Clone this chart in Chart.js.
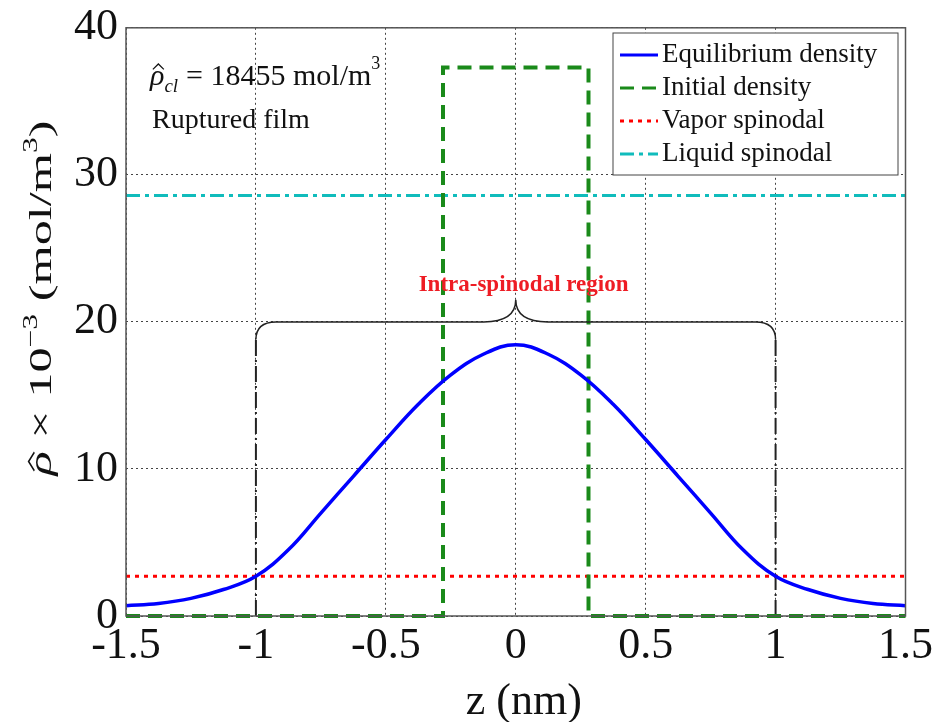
<!DOCTYPE html>
<html>
<head>
<meta charset="utf-8">
<script src="https://cdn.jsdelivr.net/npm/chart.js@4"></script>
<style>
  html, body { margin: 0; padding: 0; background: #fff; }
  #wrap { width: 941px; height: 722px; }
</style>
</head>
<body>
<div id="wrap"><canvas id="myChart"></canvas></div>
<script>
// data (z in nm, density x 10^-3 mol/m^3)
const zEq = [-1.5, -1.375, -1.25, -1.125, -1, -0.875, -0.75, -0.625, -0.5, -0.375, -0.25, -0.125, 0,
  0.125, 0.25, 0.375, 0.5, 0.625, 0.75, 0.875, 1, 1.125, 1.25, 1.375, 1.5];
const rhoEq = [0.7, 0.85, 1.2, 1.8, 2.7, 4.5, 7.0, 9.5, 12.0, 14.4, 16.4, 17.8, 18.45,
  17.8, 16.4, 14.4, 12.0, 9.5, 7.0, 4.5, 2.7, 1.8, 1.2, 0.85, 0.7];
const zInit = [-1.5, -0.28, -0.28, 0.28, 0.28, 1.5];
const rhoInit = [0, 0, 37.3, 37.3, 0, 0];
const vaporSpinodal = 2.7;
const liquidSpinodal = 28.6;
const spinodalZ = [-1, 1];
const braceTop = 18.8;
const xTicks = [-1.5, -1, -0.5, 0, 0.5, 1, 1.5];
const yTicks = [0, 10, 20, 30, 40];
const seriesNames = ["Equilibrium density", "Initial density", "Vapor spinodal", "Liquid spinodal"];

const serif = "'Liberation Serif', 'DejaVu Serif', serif";

function pts(xs, ys) { return xs.map((x, i) => ({ x: x, y: ys[i] })); }

const datasets = [
  { label: seriesNames[0], data: pts(zEq, rhoEq), borderColor: "#0000ff", borderWidth: 3.5,
    tension: 0.4, pointRadius: 0 },
  { label: seriesNames[1], data: pts(zInit, rhoInit), borderColor: "#1a8a1a", borderWidth: 4,
    borderDash: [14, 8], pointRadius: 0, tension: 0 },
  { label: seriesNames[2], data: pts([-1.5, 1.5], [vaporSpinodal, vaporSpinodal]), borderColor: "#ff0000",
    borderWidth: 3, borderDash: [4, 5], pointRadius: 0 },
  { label: seriesNames[3], data: pts([-1.5, 1.5], [liquidSpinodal, liquidSpinodal]), borderColor: "#10bcbc",
    borderWidth: 3, borderDash: [14, 5, 4, 5], pointRadius: 0 },
  { label: "", data: pts([spinodalZ[0], spinodalZ[0]], [0, braceTop]), borderColor: "#222",
    borderWidth: 2, borderDash: [16, 4, 2, 4], pointRadius: 0 },
  { label: "", data: pts([spinodalZ[1], spinodalZ[1]], [0, braceTop]), borderColor: "#222",
    borderWidth: 2, borderDash: [16, 4, 2, 4], pointRadius: 0 }
];

// rho with a hat drawn on top
function rhoHat(c, x, y, size) {
  c.font = "italic " + size + "px " + serif;
  c.fillText("ρ", x, y);
  const w = c.measureText("ρ").width;
  c.save();
  c.lineWidth = Math.max(1, size / 24);
  c.strokeStyle = c.fillStyle;
  c.setLineDash([]);
  c.beginPath();
  c.moveTo(x + w * 0.2, y - size * 0.52);
  c.lineTo(x + w * 0.58, y - size * 0.7);
  c.lineTo(x + w * 0.96, y - size * 0.52);
  c.stroke();
  c.restore();
  return w;
}

const extras = {
  id: "extras",
  afterDatasetsDraw(chart) {
    const c = chart.ctx, a = chart.chartArea;
    const xs = chart.scales.x, ys = chart.scales.y;
    c.save();
    // frame
    c.strokeStyle = "#555";
    c.lineWidth = 1.5;
    c.setLineDash([]);
    c.strokeRect(a.left, a.top, a.right - a.left, a.bottom - a.top);

    // curly brace over the intra-spinodal region
    const xl = xs.getPixelForValue(spinodalZ[0]), xr = xs.getPixelForValue(spinodalZ[1]);
    const xm = xs.getPixelForValue(0);
    const yb = ys.getPixelForValue(braceTop), yl = ys.getPixelForValue(20), yt = ys.getPixelForValue(21.5);
    const r = 20;
    c.strokeStyle = "#222";
    c.lineWidth = 1.5;
    c.beginPath();
    c.moveTo(xl, yb);
    c.quadraticCurveTo(xl, yl, xl + r, yl);
    c.lineTo(xm - r * 1.6, yl);
    c.quadraticCurveTo(xm, yl, xm, yt);
    c.quadraticCurveTo(xm, yl, xm + r * 1.6, yl);
    c.lineTo(xr - r, yl);
    c.quadraticCurveTo(xr, yl, xr, yb);
    c.stroke();

    c.fillStyle = "#ee1c24";
    c.font = "bold 23px " + serif;
    c.textAlign = "center";
    c.textBaseline = "middle";
    c.fillText("Intra-spinodal region", xs.getPixelForValue(0.03), ys.getPixelForValue(22.5));

    // annotations top left
    c.fillStyle = "#111";
    c.textAlign = "left";
    c.textBaseline = "alphabetic";
    let px = 150;
    px += rhoHat(c, px, 85, 30);
    c.font = "italic 19px " + serif;
    c.fillText("cl", px, 92);
    px += c.measureText("cl").width + 8;
    c.font = "30px " + serif;
    c.fillText("= 18455 mol/m", px, 85);
    px += c.measureText("= 18455 mol/m").width;
    c.font = "18px " + serif;
    c.fillText("3", px, 69);
    c.font = "28px " + serif;
    c.fillText("Ruptured film", 152, 128);

    // legend box
    const lx = 613, ly = 33, lw = 285, lh = 142;
    c.fillStyle = "#fff";
    c.fillRect(lx, ly, lw, lh);
    c.strokeStyle = "#444";
    c.lineWidth = 1;
    c.strokeRect(lx, ly, lw, lh);
    c.font = "27px " + serif;
    c.textBaseline = "middle";
    for (let i = 0; i < 4; i++) {
      const ds = chart.data.datasets[i];
      const yy = ly + 22 + i * 33;
      c.strokeStyle = ds.borderColor;
      c.lineWidth = 3;
      c.setLineDash(ds.borderDash || []);
      c.beginPath();
      c.moveTo(lx + 7, yy);
      c.lineTo(lx + 45, yy);
      c.stroke();
      c.setLineDash([]);
      c.fillStyle = "#111";
      c.fillText(ds.label, lx + 49, yy);
    }

    // axis titles
    c.fillStyle = "#111";
    c.textBaseline = "alphabetic";
    c.textAlign = "center";
    c.font = "44px " + serif;
    c.fillText("z (nm)", (a.left + a.right) / 2 + 8, 714);

    // y title: the source is stretched along its length
    c.translate(51, 298);
    c.rotate(-Math.PI / 2);
    c.textAlign = "left";
    const F = 32, S = 20;
    const parts = [
      { t: " × 10", f: F + "px " + serif, dy: 0 },
      { t: "−3", f: S + "px " + serif, dy: -14 },
      { t: " (mol/m", f: F + "px " + serif, dy: 0 },
      { t: "3", f: S + "px " + serif, dy: -14 },
      { t: ")", f: F + "px " + serif, dy: 0 }
    ];
    c.font = "italic " + F + "px " + serif;
    let total = c.measureText("ρ").width;
    parts.forEach(p => { c.font = p.f; total += c.measureText(p.t).width; });
    const stretch = 355 / total;
    c.scale(stretch, 1);
    let qx = -total / 2;
    qx += rhoHat(c, qx, 0, F);
    parts.forEach(p => {
      c.font = p.f;
      c.fillText(p.t, qx, p.dy);
      qx += c.measureText(p.t).width;
    });
    c.restore();
  }
};

new Chart(document.getElementById("myChart"), {
  type: "line",
  data: { datasets: datasets },
  plugins: [extras],
  options: {
    responsive: true,
    maintainAspectRatio: false,
    animation: false,
    layout: { padding: { left: 0, top: 22, right: 35, bottom: 0 } },
    plugins: { legend: { display: false }, tooltip: { enabled: false } },
    elements: { line: { fill: false } },
    datasets: { line: { clip: 6 } },
    scales: {
      x: {
        type: "linear",
        min: -1.5,
        max: 1.5,
        afterBuildTicks(scale) { scale.ticks = xTicks.map(v => ({ value: v })); },
        afterFit(scale) { scale.height = 106; },
        grid: { color: "#444", lineWidth: 1, drawTicks: false },
        border: { display: false, dash: [2, 3] },
        ticks: {
          color: "#111",
          padding: 8,
          maxRotation: 0,
          autoSkip: false,
          font: { family: serif, size: 44, lineHeight: 1.0 },
          callback: v => String(v)
        }
      },
      y: {
        min: 0,
        max: 40,
        afterBuildTicks(scale) { scale.ticks = yTicks.map(v => ({ value: v })); },
        afterFit(scale) { scale.width = 126; },
        grid: { color: "#444", lineWidth: 1, drawTicks: false },
        border: { display: false, dash: [2, 3] },
        ticks: {
          color: "#111",
          padding: 8,
          font: { family: serif, size: 44, lineHeight: 0.9 },
          callback: v => String(v)
        }
      }
    }
  }
});
</script>
</body>
</html>
